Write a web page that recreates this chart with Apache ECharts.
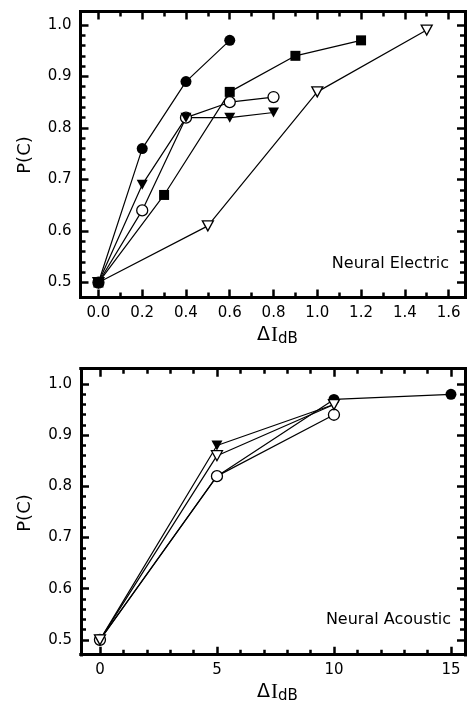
<!DOCTYPE html>
<html>
<head>
<meta charset="utf-8">
<script src="https://cdn.jsdelivr.net/npm/echarts@6/dist/echarts.min.js"></script>
<style>
  html, body { margin: 0; padding: 0; background: #fff; }
  #chart { width: 468px; height: 711px; }
</style>
</head>
<body>
<div id="chart"></div>
<script>
// ---- Neural electric panel: P(C) against ΔI (dB) ----
const electricFilledCircleX = [0, 0.2, 0.4, 0.6];
const electricFilledCircleY = [0.5, 0.76, 0.89, 0.97];
const electricFilledSquareX = [0, 0.3, 0.6, 0.9, 1.2];
const electricFilledSquareY = [0.5, 0.67, 0.87, 0.94, 0.97];
const electricOpenCircleX = [0, 0.2, 0.4, 0.6, 0.8];
const electricOpenCircleY = [0.5, 0.64, 0.82, 0.85, 0.86];
const electricFilledTriX = [0, 0.2, 0.4, 0.6, 0.8];
const electricFilledTriY = [0.5, 0.69, 0.82, 0.82, 0.83];
const electricOpenTriX = [0, 0.5, 1.0, 1.5];
const electricOpenTriY = [0.5, 0.61, 0.87, 0.99];

// ---- Neural acoustic panel ----
const acousticFilledCircleX = [0, 5, 10, 15];
const acousticFilledCircleY = [0.5, 0.82, 0.97, 0.98];
const acousticOpenCircleX = [0, 5, 10];
const acousticOpenCircleY = [0.5, 0.82, 0.94];
const acousticFilledTriX = [0, 5, 10];
const acousticFilledTriY = [0.5, 0.88, 0.96];
const acousticOpenTriX = [0, 5, 10];
const acousticOpenTriY = [0.5, 0.86, 0.96];

// ---- Tick values ----
const electricXTicks = [0, 0.2, 0.4, 0.6, 0.8, 1.0, 1.2, 1.4, 1.6];
const electricXMinor = [0.1, 0.3, 0.5, 0.7, 0.9, 1.1, 1.3, 1.5];
const acousticXTicks = [0, 5, 10, 15];
const acousticXMinor = [1, 2, 3, 4, 6, 7, 8, 9, 11, 12, 13, 14];
const pcTicks = [0.5, 0.6, 0.7, 0.8, 0.9, 1.0];
const pcMinor = [0.52, 0.54, 0.56, 0.58, 0.62, 0.64, 0.66, 0.68,
                 0.72, 0.74, 0.76, 0.78, 0.82, 0.84, 0.86, 0.88,
                 0.92, 0.94, 0.96, 0.98];

const SANS = 'DejaVu Sans';
const INK = '#000';

// One side of a framed axis: the frame line with major ticks and labels,
// plus an overlaid axis that carries the shorter minor ticks.
function sideAxes(gridIndex, range, pos, majors, minors, withLabels, fmt) {
  const common = {
    type: 'value', gridIndex, min: range[0], max: range[1], position: pos,
    splitLine: { show: false }, axisPointer: { show: false }, silent: true
  };
  const main = Object.assign({}, common, {
    axisLine: { show: true, onZero: false, lineStyle: { color: INK, width: 3, cap: 'square' } },
    axisTick: { show: true, inside: true, length: 8, customValues: majors,
                lineStyle: { color: INK, width: 2.5 } },
    axisLabel: withLabels
      ? { show: true, customValues: majors, formatter: fmt, color: INK,
          fontFamily: SANS, fontSize: 15, margin: pos === 'bottom' ? 8 : 9 }
      : { show: false }
  });
  const minor = Object.assign({}, common, {
    axisLine: { show: true, onZero: false, lineStyle: { color: INK, width: 3, cap: 'square' } },
    axisTick: { show: true, inside: true, length: 5, customValues: minors,
                lineStyle: { color: INK, width: 2.5 } },
    axisLabel: { show: false, customValues: minors }
  });
  return [main, minor];
}

const fmt1 = v => v.toFixed(1);
const fmt0 = v => String(Math.round(v));

const elXRange = [-0.082, 1.675];
const elYRange = [0.471, 1.026];
const acXRange = [-0.81, 15.6];
const acYRange = [0.471, 1.030];

const xAxes = [].concat(
  sideAxes(0, elXRange, 'bottom', electricXTicks, electricXMinor, true, fmt1),
  sideAxes(0, elXRange, 'top', electricXTicks, electricXMinor, false),
  sideAxes(1, acXRange, 'bottom', acousticXTicks, acousticXMinor, true, fmt0),
  sideAxes(1, acXRange, 'top', acousticXTicks, acousticXMinor, false)
);
const yAxes = [].concat(
  sideAxes(0, elYRange, 'left', pcTicks, pcMinor, true, fmt1),
  sideAxes(0, elYRange, 'right', pcTicks, pcMinor, false),
  sideAxes(1, acYRange, 'left', pcTicks, pcMinor, true, fmt1),
  sideAxes(1, acYRange, 'right', pcTicks, pcMinor, false)
);

function pairs(xs, ys) { return xs.map((x, i) => [x, ys[i]]); }

function curve(xs, ys, panel, marker, filled) {
  const shapes = {
    circle: { symbol: 'circle', size: 11, rotate: 0 },
    square: { symbol: 'rect', size: 10, rotate: 0 },
    down: { symbol: 'triangle', size: [11, 10], rotate: 180 }
  };
  const m = shapes[marker];
  const axisIdx = panel === 0 ? 0 : 4;
  return {
    type: 'line',
    xAxisIndex: axisIdx,
    yAxisIndex: axisIdx,
    data: pairs(xs, ys),
    symbol: m.symbol,
    symbolSize: m.size,
    symbolRotate: m.rotate,
    showAllSymbol: true,
    clip: false,
    silent: true,
    lineStyle: { color: INK, width: 1.2 },
    itemStyle: { color: filled ? INK : '#fff', borderColor: INK, borderWidth: filled ? 0 : 1.3 },
    emphasis: { disabled: true }
  };
}

const series = [
  curve(electricOpenTriX, electricOpenTriY, 0, 'down', false),
  curve(electricOpenCircleX, electricOpenCircleY, 0, 'circle', false),
  curve(electricFilledTriX, electricFilledTriY, 0, 'down', true),
  curve(electricFilledCircleX, electricFilledCircleY, 0, 'circle', true),
  curve(electricFilledSquareX, electricFilledSquareY, 0, 'square', true),

  curve(acousticFilledCircleX, acousticFilledCircleY, 1, 'circle', true),
  curve(acousticOpenCircleX, acousticOpenCircleY, 1, 'circle', false),
  curve(acousticFilledTriX, acousticFilledTriY, 1, 'down', true),
  curve(acousticOpenTriX, acousticOpenTriY, 1, 'down', false)
];

// Axis titles: P(C) on the left, ΔI with a "dB" subscript below.
function deltaTitle(cy) {
  return [
    { type: 'text', left: 257, top: cy - 10,
      style: { text: 'Δ', fontFamily: SANS, fontSize: 19, fill: INK } },
    { type: 'text', left: 271, top: cy - 11,
      style: { text: 'I', fontFamily: 'Liberation Serif', fontSize: 21, fill: INK } },
    { type: 'text', left: 278, top: cy - 4,
      style: { text: 'dB', fontFamily: SANS, fontSize: 15, fill: INK } }
  ];
}
function pcTitle(cy) {
  return {
    type: 'text', x: 25, y: cy, rotation: Math.PI / 2,
    style: { text: 'P(C)', fontFamily: SANS, fontSize: 18, fill: INK,
             textAlign: 'center', textVerticalAlign: 'middle' }
  };
}
function panelName(text, right, cy) {
  return {
    type: 'text', x: right, y: cy,
    style: { text, fontFamily: SANS, fontSize: 16, fill: INK,
             textAlign: 'right', textVerticalAlign: 'middle' }
  };
}

const chart = echarts.init(document.getElementById('chart'), null, { renderer: 'canvas' });
chart.setOption({
  animation: false,
  backgroundColor: '#fff',
  grid: [
    { left: 80.5, top: 11.5, width: 384.5, height: 286, containLabel: false },
    { left: 81, top: 368.7, width: 384, height: 286, containLabel: false }
  ],
  xAxis: xAxes,
  yAxis: yAxes,
  series,
  graphic: [].concat(
    deltaTitle(336),
    deltaTitle(693),
    [pcTitle(155), pcTitle(513),
     panelName('Neural Electric', 449, 264),
     panelName('Neural Acoustic', 451, 620)]
  )
});
</script>
</body>
</html>
